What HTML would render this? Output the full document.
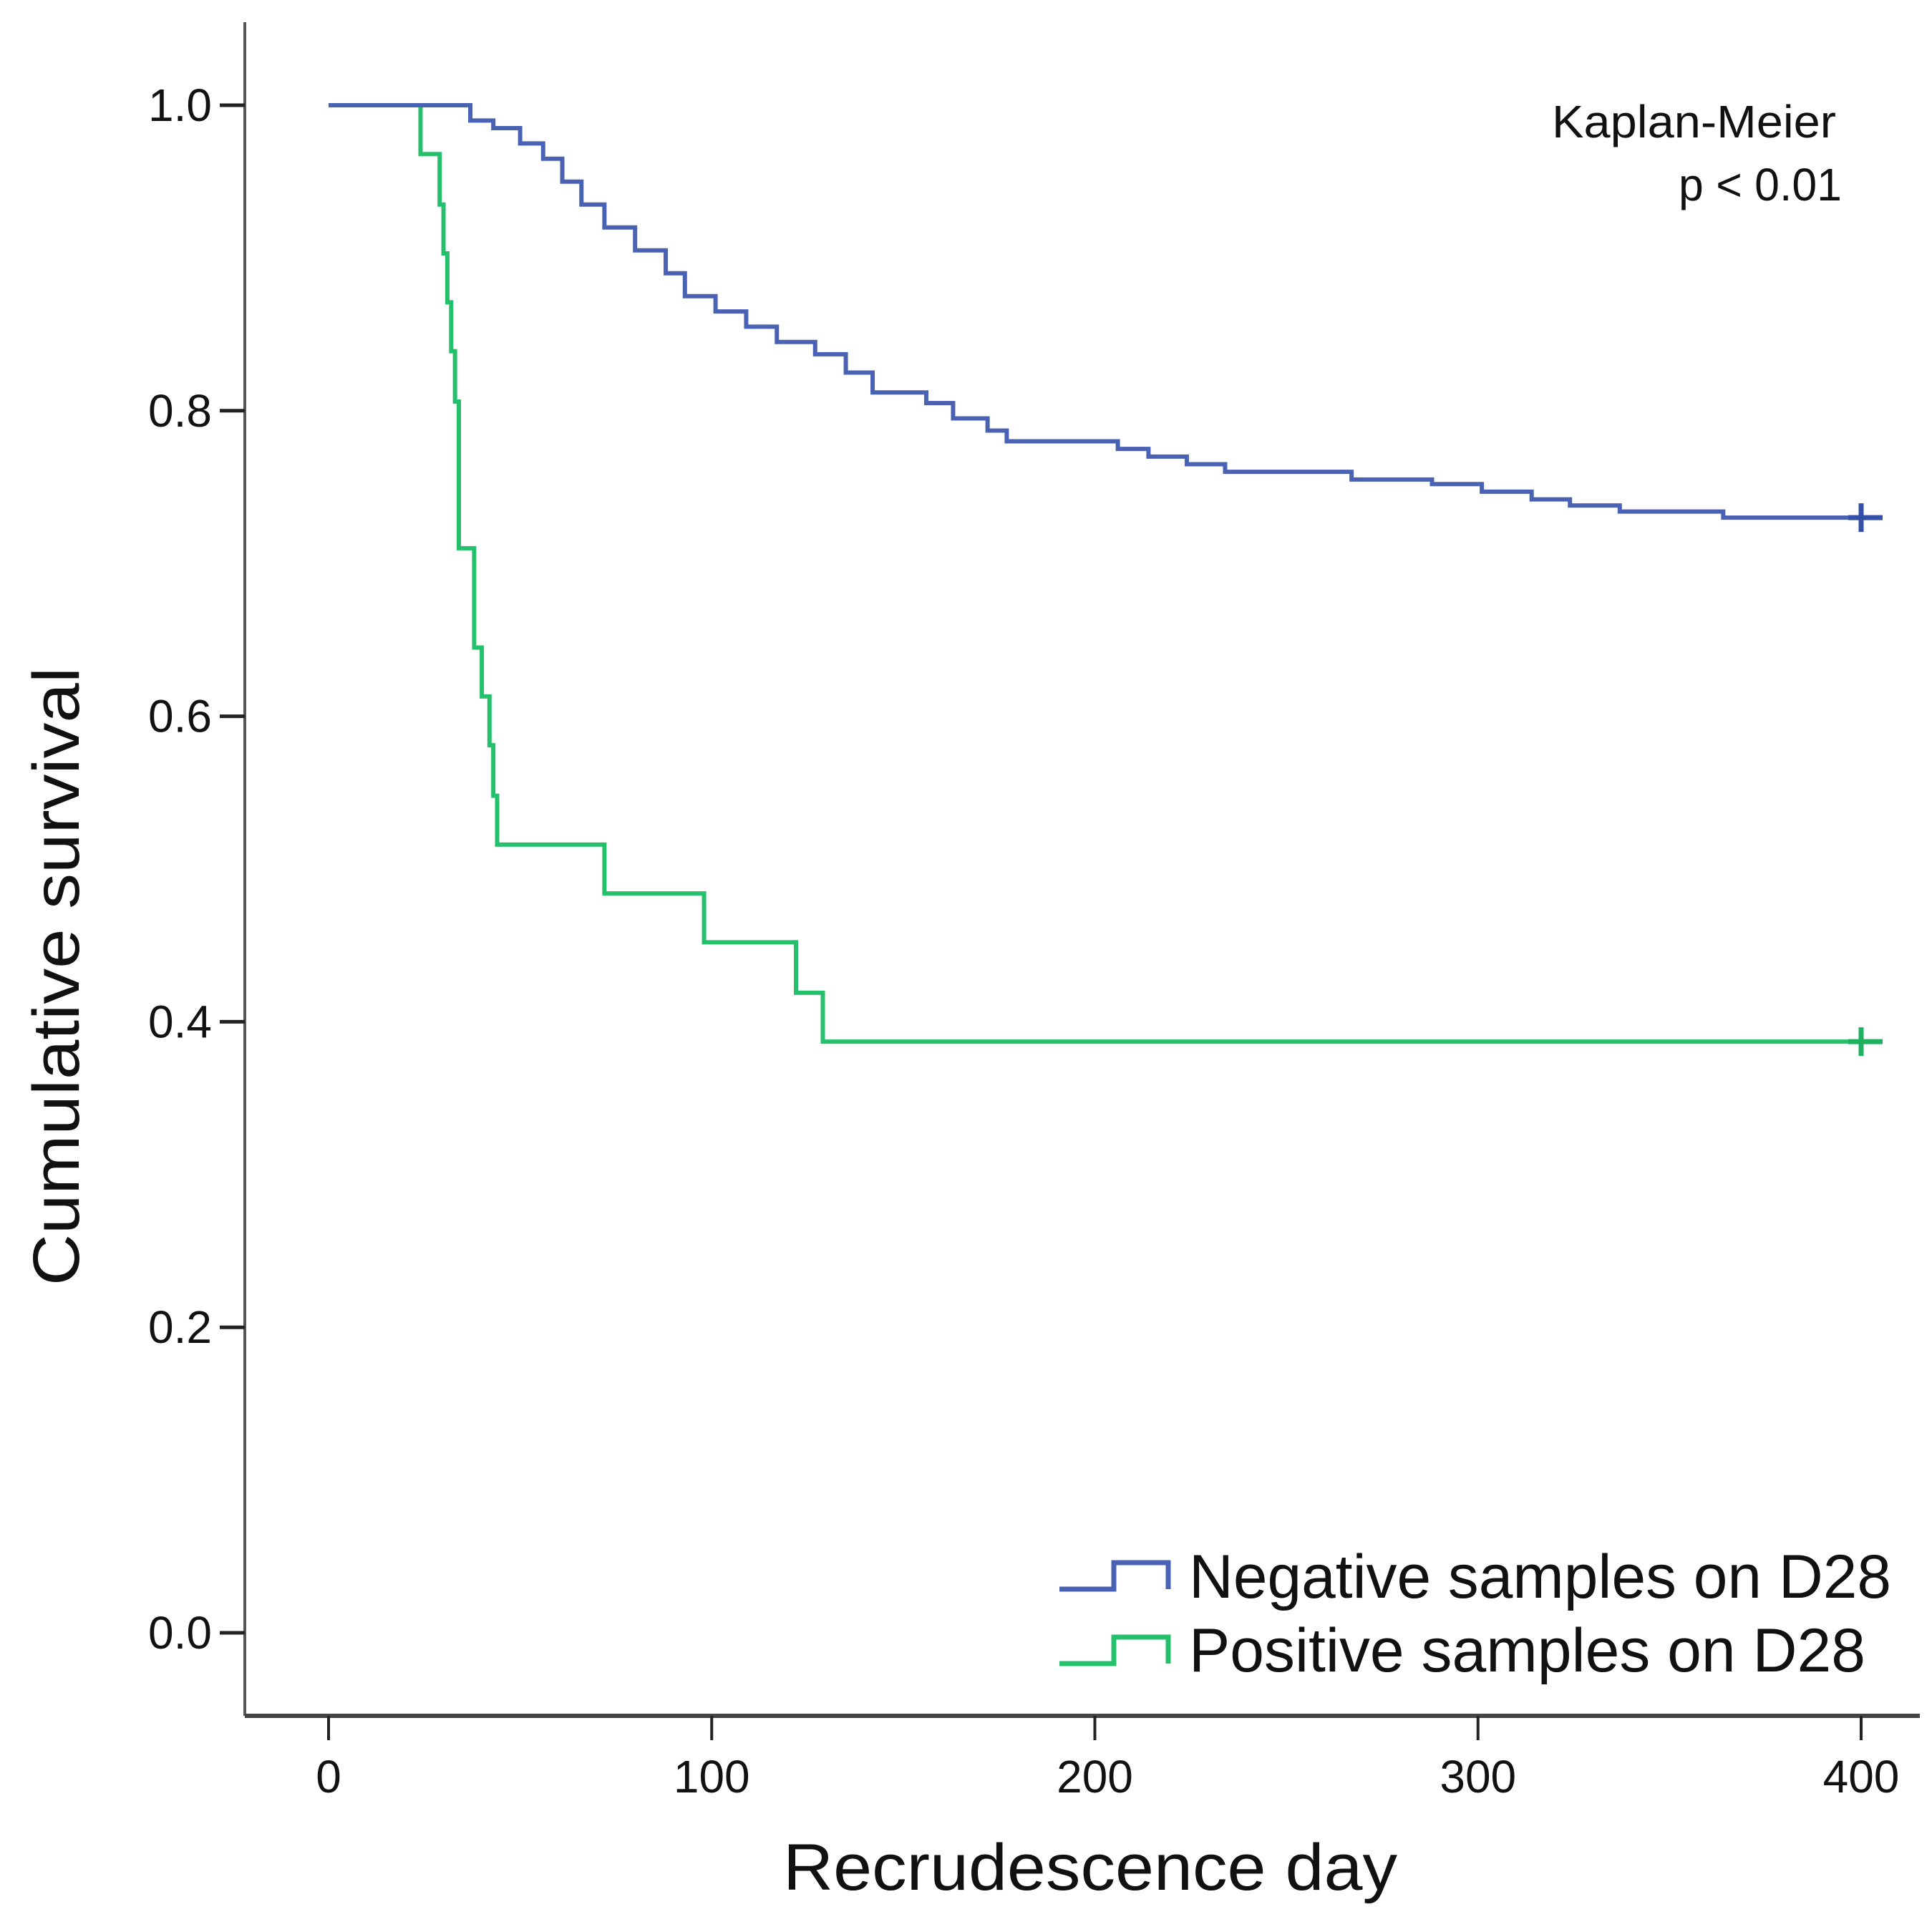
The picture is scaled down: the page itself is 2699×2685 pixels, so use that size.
<!DOCTYPE html>
<html><head><meta charset="utf-8"><style>
html,body{margin:0;padding:0;background:#fff}
svg{display:block}
text{font-family:"Liberation Sans",sans-serif;fill:#111}
</style></head><body>
<svg id="chart" width="2699" height="2685" viewBox="0 0 2699 2685" xmlns="http://www.w3.org/2000/svg">
<g id="axes"></g>
<g id="series"></g>
<text transform="translate(110,1364) rotate(-90)" text-anchor="middle" font-size="92" textLength="864" lengthAdjust="spacingAndGlyphs">Cumulative survival</text>
<text x="1523" y="2640" text-anchor="middle" font-size="92" textLength="858" lengthAdjust="spacingAndGlyphs">Recrudescence day</text>
<text x="2565" y="192" text-anchor="end" font-size="64" textLength="397" lengthAdjust="spacingAndGlyphs">Kaplan-Meier</text>
<text x="2573" y="280" text-anchor="end" font-size="64" textLength="228" lengthAdjust="spacingAndGlyphs">p &lt; 0.01</text>
<g>
<path d="M1480 2220 H1556 V2183 H1632 V2220" fill="none" stroke="#4a62b4" stroke-width="7"/>
<text x="1661" y="2232" font-size="86" textLength="981" lengthAdjust="spacingAndGlyphs">Negative samples on D28</text>
<path d="M1480 2324 H1556 V2287 H1632 V2324" fill="none" stroke="#25c06b" stroke-width="7"/>
<text x="1661" y="2335" font-size="86" textLength="945" lengthAdjust="spacingAndGlyphs">Positive samples on D28</text>
</g>
</svg>
<script>
const xTicks=[0,100,200,300,400];
const yTicks=[0.0,0.2,0.4,0.6,0.8,1.0];
const yTickLabels=["0.0","0.2","0.4","0.6","0.8","1.0"];
const negDays=[0,37,43,50,56,61,66,72,80,88,93,101,109,117,127,135,142,156,163,172,177,206,214,224,234,267,288,301,314,324,337,364,400];
const negSurv=[1.0,0.99,0.985,0.975,0.965,0.95,0.935,0.92,0.905,0.89,0.875,0.865,0.855,0.845,0.837,0.825,0.812,0.805,0.795,0.787,0.78,0.775,0.77,0.765,0.76,0.755,0.752,0.747,0.742,0.738,0.734,0.73,0.73];
const posDays=[0,24,29,30,31,32,33,34,38,40,42,43,44,72,98,122,129,400];
const posSurv=[1.0,0.968,0.935,0.903,0.871,0.839,0.806,0.71,0.645,0.613,0.581,0.548,0.516,0.484,0.452,0.419,0.387,0.387];
const X=d=>459+d*(2600-459)/400;
const Y=v=>2281-v*(2281-147);
const NS="http://www.w3.org/2000/svg";
const axes=document.getElementById('axes'),series=document.getElementById('series');
function mk(tag,attrs,parent){const e=document.createElementNS(NS,tag);for(const k in attrs)e.setAttribute(k,attrs[k]);parent.appendChild(e);return e;}
let yAxis=mk('line',{x1:342,y1:31,x2:342,y2:2397,stroke:'#555','stroke-width':4},axes);


let xAxis=mk('line',{x1:342,y1:2397,x2:2682,y2:2397,stroke:'#444','stroke-width':6},axes);


yTicks.forEach((v,i)=>{
 let t=mk('line',{x1:307,y1:Y(v),x2:342,y2:Y(v),stroke:'#222','stroke-width':5},axes);
 
 
 let l=mk('text',{x:296,y:Y(v)+22,'text-anchor':'end','font-size':64},axes);
 
 
 l.textContent=yTickLabels[i];
});
xTicks.forEach(v=>{
 let t=mk('line',{x1:X(v),y1:2397,x2:X(v),y2:2431,stroke:'#222','stroke-width':4},axes);
 
 
 let l=mk('text',{x:X(v),y:2504,'text-anchor':'middle','font-size':64},axes);
 
 
 l.textContent=String(v);
});
function stepPath(ds,ss){let d='M'+X(ds[0])+' '+Y(ss[0]);for(let i=1;i<ds.length;i++){d+=' H'+X(ds[i])+' V'+Y(ss[i]);}return d;}
let pp=mk('path',{d:stepPath(posDays,posSurv),fill:'none',stroke:'#25c06b','stroke-width':6},series);


let np=mk('path',{d:stepPath(negDays,negSurv),fill:'none',stroke:'#4a62b4','stroke-width':6},series);


[[negDays,negSurv,'#3450a8','negative-censor-mark'],[posDays,posSurv,'#1fb060','positive-censor-mark']].forEach(([ds,ss,c,n])=>{
 const x=X(ds[ds.length-1]),y=Y(ss[ss.length-1]);
 let g=mk('path',{d:`M${x} ${y-20} V${y+20} M${x-18} ${y} H${x+30}`,stroke:c,'stroke-width':7,fill:'none'},series);
 
 
});
</script>
</body></html>
